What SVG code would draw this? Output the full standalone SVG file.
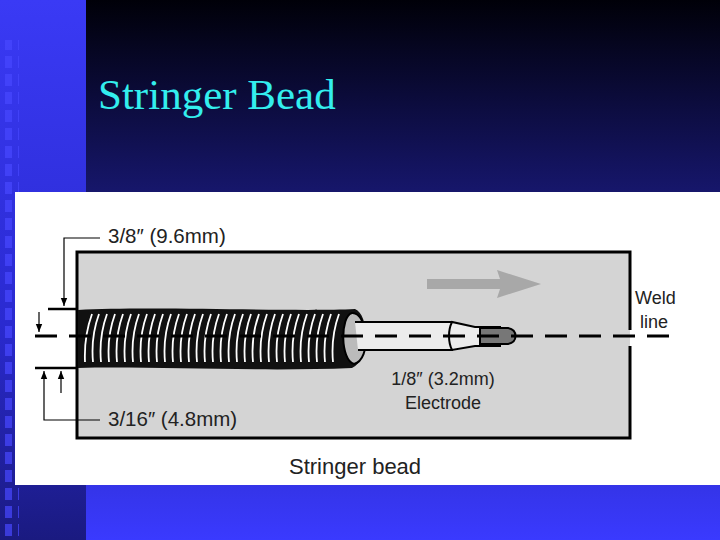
<svg xmlns="http://www.w3.org/2000/svg" width="720" height="540" viewBox="0 0 720 540">
<defs>
<linearGradient id="bg" x1="0" y1="0" x2="0" y2="1"><stop offset="0" stop-color="#000008"/><stop offset="0.35" stop-color="#16166a"/><stop offset="1" stop-color="#3a3aff"/></linearGradient>
<linearGradient id="ls" x1="0" y1="0" x2="0" y2="1"><stop offset="0" stop-color="#3a3af5"/><stop offset="0.6" stop-color="#2a2ad0"/><stop offset="1" stop-color="#1a1a80"/></linearGradient>
<pattern id="sq" width="18" height="18" patternUnits="userSpaceOnUse"><rect x="0" y="2" width="12" height="12" fill="#4848ff" opacity="0.7"/></pattern>
<marker id="ah" viewBox="0 0 10 10" refX="10" refY="5" markerWidth="7" markerHeight="7" orient="auto"><path d="M0,1 L10,5 L0,9 z" fill="#000"/></marker>
<style>
.t{font-family:"Liberation Sans",Arial,sans-serif;fill:#222;font-size:18px}
.dl{font-size:20.5px}
.cap{font-size:22px}
.ttl{font-family:"Liberation Serif",serif;font-size:43px;fill:#33eeee}
.dim{stroke:#000;stroke-width:1.2;fill:none}
.thick{stroke:#000;stroke-width:2.5}
</style>
</defs>
<rect width="720" height="540" fill="url(#bg)"/>
<rect x="0" y="0" width="86" height="540" fill="url(#ls)"/>
<rect x="5" y="40" width="14" height="500" fill="url(#sq)"/>
<text class="ttl" x="98" y="109">Stringer Bead</text>
<rect x="15" y="192" width="705" height="293" fill="#fff"/>
<g id="plate">
<rect x="77" y="252" width="553" height="186" fill="#d4d4d4"/>
<path d="M630,330 V252 H77 V438 H630 V346" fill="none" stroke="#000" stroke-width="3"/>
</g>
<g id="arrow"><path d="M427,279 H500 L497,270 L541,284 L497,298 L500,289 H427 Z" fill="#a8a8a8"/></g>
<g id="bead">
<path d="M78,310 C150,306 300,312 355,309 C370,315 370,360 352,368 C260,372 150,366 78,368 Z" fill="#111"/>
<g stroke="#fff" stroke-width="1.8" fill="none">
<path d="M85,362 C84,340 88,325 92,314 M93,362 C91,340 95,325 99,314 M101,362 C99,340 103,325 107,314 M109,362 C107,340 111,325 115,314 M117,362 C115,340 119,325 123,314 M125,362 C123,340 127,325 131,314 M133,362 C131,340 135,325 139,314 M141,362 C139,340 143,325 147,314 M149,362 C147,340 151,325 155,314 M157,362 C155,340 159,325 163,314 M165,362 C163,340 167,325 171,314 M173,362 C171,340 175,325 179,314 M181,362 C179,340 183,325 187,314 M189,362 C187,340 191,325 195,314 M197,362 C195,340 199,325 203,314 M205,362 C203,340 207,325 211,314 M213,362 C211,340 215,325 219,314 M221,362 C219,340 223,325 227,314 M229,362 C227,340 231,325 235,314 M237,362 C235,340 239,325 243,314 M245,362 C243,340 247,325 251,314 M253,362 C251,340 255,325 259,314 M261,362 C259,340 263,325 267,314 M269,362 C267,340 271,325 275,314 M277,362 C275,340 279,325 283,314 M285,362 C283,340 287,325 291,314 M293,362 C291,340 295,325 299,314 M301,362 C299,340 303,325 307,314 M309,362 C307,340 311,325 315,314 M317,362 C315,340 319,325 323,314 M325,362 C323,340 327,325 331,314 M333,362 C331,340 335,325 339,314"/>
</g>
<path d="M352,313 C368,312 372,360 354,364 C340,360 340,316 352,313 Z" fill="#bbb" stroke="#000" stroke-width="2"/>
</g>
<g id="electrode">
<path d="M355,322 H452 V350 H358" fill="#ececec" stroke="#000" stroke-width="2"/>
<path d="M452,322 C448,330 448,342 452,350 L475,346 H500 V327 H475 Z" fill="#ececec" stroke="#000" stroke-width="2"/>
<path d="M480,328 H508 C518,330 518,342 508,344 H480 Z" fill="#777" stroke="#000" stroke-width="2"/>
</g>
<g id="connectors">
<line x1="35" y1="336" x2="675" y2="336" stroke="#000" stroke-width="3" stroke-dasharray="22,12"/>
<line x1="48" y1="309" x2="78" y2="309" class="thick"/>
<line x1="35" y1="368" x2="78" y2="368" class="thick"/>
<path d="M100,238 H64 V306" class="dim" marker-end="url(#ah)"/>
<path d="M39,312 V332" class="dim" marker-end="url(#ah)"/>
<path d="M100,420 H44 V371" class="dim" marker-end="url(#ah)"/>
<path d="M61,393 V371" class="dim" marker-end="url(#ah)"/>
</g>
<text class="t dl" x="108" y="243">3/8″ (9.6mm)</text>
<text class="t dl" x="108" y="426">3/16″ (4.8mm)</text>
<text class="t" x="635" y="304">Weld</text>
<text class="t" x="640" y="328">line</text>
<text class="t" x="443" y="385" text-anchor="middle">1/8″ (3.2mm)</text>
<text class="t" x="443" y="409" text-anchor="middle">Electrode</text>
<text class="t cap" x="289" y="474">Stringer bead</text>
</svg>
